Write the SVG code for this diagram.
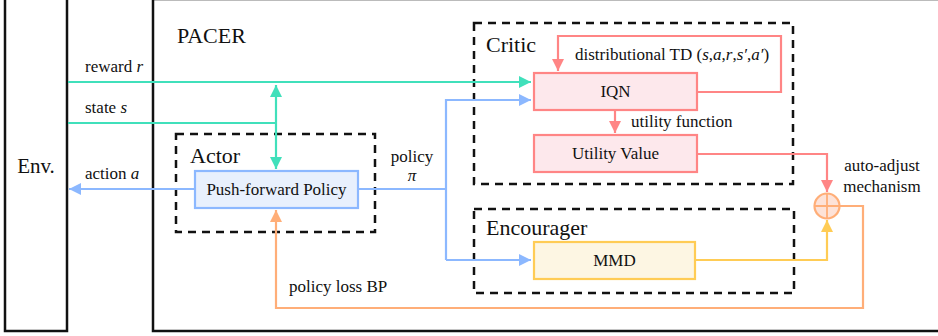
<svg xmlns="http://www.w3.org/2000/svg" width="938" height="336" viewBox="0 0 938 336">
  <style>
    text { font-family: "Liberation Serif", "Times New Roman", serif; fill: #111; font-size: 17px; }
    text.title { font-size: 22px; }
    .frame { fill: none; stroke: #111; stroke-width: 2.5; }
    .group { fill: none; stroke: #111; stroke-width: 2.5; stroke-dasharray: 8 6; }
    .teal { fill: none; stroke: #40e0bb; stroke-width: 2.2; }
    .blue { fill: none; stroke: #8cb8ff; stroke-width: 2.2; }
    .red { fill: none; stroke: #ff8585; stroke-width: 2.2; }
    .yellow { fill: none; stroke: #ffcc55; stroke-width: 2.2; }
    .orange { fill: none; stroke: #ffae78; stroke-width: 2.2; }
  </style>
  <defs>
    <marker id="ah-teal" viewBox="0 0 10 10" refX="10" refY="5" markerWidth="5.5" markerHeight="5.5" orient="auto-start-reverse" markerUnits="strokeWidth">
      <path d="M0,0 L10,5 L0,10 Z" fill="#40e0bb"/>
    </marker>
    <marker id="ah-blue" viewBox="0 0 10 10" refX="10" refY="5" markerWidth="5.5" markerHeight="5.5" orient="auto" markerUnits="strokeWidth">
      <path d="M0,0 L10,5 L0,10 Z" fill="#8cb8ff"/>
    </marker>
    <marker id="ah-red" viewBox="0 0 10 10" refX="10" refY="5" markerWidth="5.5" markerHeight="5.5" orient="auto" markerUnits="strokeWidth">
      <path d="M0,0 L10,5 L0,10 Z" fill="#ff8585"/>
    </marker>
    <marker id="ah-yellow" viewBox="0 0 10 10" refX="10" refY="5" markerWidth="5.5" markerHeight="5.5" orient="auto" markerUnits="strokeWidth">
      <path d="M0,0 L10,5 L0,10 Z" fill="#ffcc55"/>
    </marker>
    <marker id="ah-orange" viewBox="0 0 10 10" refX="10" refY="5" markerWidth="5.5" markerHeight="5.5" orient="auto" markerUnits="strokeWidth">
      <path d="M0,0 L10,5 L0,10 Z" fill="#ffae78"/>
    </marker>
  </defs>

  <rect width="938" height="336" fill="#fff"/>
  <line x1="153" y1="0.5" x2="938" y2="0.5" stroke="#bbb" stroke-width="1"/>

  <!-- environment column -->
  <g id="env">
    <rect class="frame" x="5" y="-10" width="62" height="341"/>
    <text x="36" y="173" font-size="21" text-anchor="middle" style="font-size:21px">Env.</text>
  </g>

  <!-- agent frame -->
  <g id="pacer">
    <rect class="frame" x="153" y="-10" width="800" height="341"/>
    <text class="title" x="177" y="43">PACER</text>
  </g>

  <!-- grouping boxes -->
  <g id="actor">
    <rect class="group" x="176" y="134" width="199" height="98"/>
    <text class="title" x="190" y="163">Actor</text>
  </g>
  <g id="critic">
    <rect class="group" x="474" y="23" width="319" height="161"/>
    <text class="title" x="486" y="52">Critic</text>
  </g>
  <g id="encourager">
    <rect class="group" x="474" y="209" width="320" height="84"/>
    <text class="title" x="486" y="235">Encourager</text>
  </g>

  <!-- connectors -->
  <g id="connectors">
    <!-- reward and state from environment -->
    <path class="teal" d="M68,82 H531" marker-end="url(#ah-teal)"/>
    <path class="teal" d="M68,123 H276"/>
    <path class="teal" d="M276,85 V169" marker-start="url(#ah-teal)" marker-end="url(#ah-teal)"/>
    <!-- action back to environment -->
    <path class="blue" d="M195,189 H69" marker-end="url(#ah-blue)"/>
    <!-- policy to critic and encourager -->
    <path class="blue" d="M358,189 H446"/>
    <path class="blue" d="M446,260 V100 H531" marker-end="url(#ah-blue)"/>
    <path class="blue" d="M446,260 H531" marker-end="url(#ah-blue)"/>
    <!-- distributional TD loop -->
    <path class="red" d="M697,92 H781 V36 H558 V71" marker-end="url(#ah-red)"/>
    <!-- utility function -->
    <path class="red" d="M615,110 V133" marker-end="url(#ah-red)"/>
    <!-- utility value to mixer -->
    <path class="red" d="M697,154 H827 V192" marker-end="url(#ah-red)"/>
    <!-- MMD to mixer -->
    <path class="yellow" d="M695,260 H827 V220" marker-end="url(#ah-yellow)"/>
    <!-- policy loss back-propagation -->
    <path class="orange" d="M840,206 H863 V308 H276 V210" marker-end="url(#ah-orange)"/>
  </g>

  <!-- nodes -->
  <g id="push-forward-policy">
    <rect x="195" y="171" width="163" height="37" fill="#e8f0fd" stroke="#8cb8ff" stroke-width="2.2"/>
    <text x="276.5" y="195" text-anchor="middle">Push-forward Policy</text>
  </g>
  <g id="iqn">
    <rect x="534" y="73" width="163" height="37" fill="#fde8ec" stroke="#ff8585" stroke-width="2.2"/>
    <text x="615.5" y="97" text-anchor="middle">IQN</text>
  </g>
  <g id="utility-value">
    <rect x="534" y="135" width="163" height="37" fill="#fde8ec" stroke="#ff8585" stroke-width="2.2"/>
    <text x="615.5" y="159" text-anchor="middle">Utility Value</text>
  </g>
  <g id="mmd">
    <rect x="534" y="242" width="161" height="37" fill="#fdf6e3" stroke="#ffcc55" stroke-width="2.2"/>
    <text x="614.5" y="266" text-anchor="middle">MMD</text>
  </g>
  <g id="mixer">
    <circle cx="827" cy="206" r="12.5" fill="#fde2d8" stroke="#ffae78" stroke-width="2.2"/>
    <path d="M814.5,206 H839.5 M827,193.5 V218.5" stroke="#ffae78" stroke-width="1.8"/>
  </g>

  <!-- connector labels -->
  <g id="labels">
    <text x="85" y="72">reward <tspan font-style="italic">r</tspan></text>
    <text x="85" y="113">state <tspan font-style="italic">s</tspan></text>
    <text x="85" y="179">action <tspan font-style="italic">a</tspan></text>
    <text x="412" y="162" text-anchor="middle">policy</text>
    <text x="412" y="181" text-anchor="middle" font-style="italic">π</text>
    <text x="575" y="60">distributional TD (<tspan font-style="italic">s</tspan>,<tspan font-style="italic">a</tspan>,<tspan font-style="italic">r</tspan>,<tspan font-style="italic">s′</tspan>,<tspan font-style="italic">a′</tspan>)</text>
    <text x="631" y="127">utility function</text>
    <text x="882" y="171" text-anchor="middle">auto-adjust</text>
    <text x="882" y="192" text-anchor="middle">mechanism</text>
    <text x="289" y="292">policy loss BP</text>
  </g>
</svg>
